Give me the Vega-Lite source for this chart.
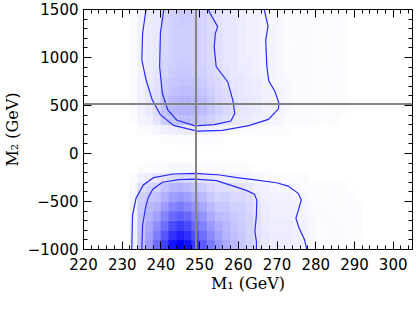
{
"$schema": "https://vega.github.io/schema/vega-lite/v6.json",
"width": 329, "height": 240,
"autosize": "none",
"padding": {"left": 83, "top": 9, "right": 4, "bottom": 63},
"background": "white",
"config": {"view": {"stroke": null}, "axis": {"grid": false, "labelFont": "DejaVu Sans", "labelFontSize": 15, "labelColor": "#000", "titleFont": "DejaVu Serif", "titleFontSize": 16, "titleFontWeight": "normal", "titleColor": "#000", "labelOverlap": false, "labelFlush": false}},
"resolve": {"scale": {"x": "independent", "y": "independent"}, "axis": {"x": "independent", "y": "independent"}},
"datasets": {
"heat": [
{"x":233,"y":-950,"v":6},{"x":233,"y":-850,"v":6},{"x":233,"y":-750,"v":6},{"x":233,"y":-650,"v":5},{"x":233,"y":-550,"v":5},{"x":233,"y":-450,"v":4},{"x":233,"y":-350,"v":3},{"x":233,"y":-250,"v":1},
{"x":235,"y":-950,"v":25},{"x":235,"y":-850,"v":24},{"x":235,"y":-750,"v":23},{"x":235,"y":-650,"v":22},{"x":235,"y":-550,"v":21},{"x":235,"y":-450,"v":18},{"x":235,"y":-350,"v":13},{"x":235,"y":-250,"v":6},{"x":235,"y":-150,"v":1},
{"x":237,"y":-950,"v":40},{"x":237,"y":-850,"v":37},{"x":237,"y":-750,"v":34},{"x":237,"y":-650,"v":30},{"x":237,"y":-550,"v":27},{"x":237,"y":-450,"v":22},{"x":237,"y":-350,"v":16},{"x":237,"y":-250,"v":7},{"x":237,"y":-150,"v":1},
{"x":239,"y":-950,"v":58},{"x":239,"y":-850,"v":51},{"x":239,"y":-750,"v":44},{"x":239,"y":-650,"v":37},{"x":239,"y":-550,"v":30},{"x":239,"y":-450,"v":24},{"x":239,"y":-350,"v":17},{"x":239,"y":-250,"v":9},{"x":239,"y":-150,"v":2},
{"x":241,"y":-950,"v":75},{"x":241,"y":-850,"v":66},{"x":241,"y":-750,"v":57},{"x":241,"y":-650,"v":48},{"x":241,"y":-550,"v":39},{"x":241,"y":-450,"v":31},{"x":241,"y":-350,"v":23},{"x":241,"y":-250,"v":11},{"x":241,"y":-150,"v":2},
{"x":243,"y":-950,"v":92},{"x":243,"y":-850,"v":81},{"x":243,"y":-750,"v":70},{"x":243,"y":-650,"v":59},{"x":243,"y":-550,"v":48},{"x":243,"y":-450,"v":38},{"x":243,"y":-350,"v":28},{"x":243,"y":-250,"v":14},{"x":243,"y":-150,"v":3},
{"x":245,"y":-950,"v":100},{"x":245,"y":-850,"v":88},{"x":245,"y":-750,"v":76},{"x":245,"y":-650,"v":64},{"x":245,"y":-550,"v":52},{"x":245,"y":-450,"v":41},{"x":245,"y":-350,"v":30},{"x":245,"y":-250,"v":15},{"x":245,"y":-150,"v":3},
{"x":247,"y":-950,"v":93},{"x":247,"y":-850,"v":82},{"x":247,"y":-750,"v":71},{"x":247,"y":-650,"v":60},{"x":247,"y":-550,"v":48},{"x":247,"y":-450,"v":38},{"x":247,"y":-350,"v":28},{"x":247,"y":-250,"v":14},{"x":247,"y":-150,"v":3},
{"x":249,"y":-950,"v":78},{"x":249,"y":-850,"v":69},{"x":249,"y":-750,"v":59},{"x":249,"y":-650,"v":50},{"x":249,"y":-550,"v":41},{"x":249,"y":-450,"v":32},{"x":249,"y":-350,"v":23},{"x":249,"y":-250,"v":12},{"x":249,"y":-150,"v":2},
{"x":251,"y":-950,"v":65},{"x":251,"y":-850,"v":57},{"x":251,"y":-750,"v":49},{"x":251,"y":-650,"v":42},{"x":251,"y":-550,"v":34},{"x":251,"y":-450,"v":27},{"x":251,"y":-350,"v":20},{"x":251,"y":-250,"v":10},{"x":251,"y":-150,"v":2},
{"x":253,"y":-950,"v":52},{"x":253,"y":-850,"v":46},{"x":253,"y":-750,"v":40},{"x":253,"y":-650,"v":33},{"x":253,"y":-550,"v":27},{"x":253,"y":-450,"v":21},{"x":253,"y":-350,"v":16},{"x":253,"y":-250,"v":8},{"x":253,"y":-150,"v":2},
{"x":255,"y":-950,"v":42},{"x":255,"y":-850,"v":37},{"x":255,"y":-750,"v":32},{"x":255,"y":-650,"v":27},{"x":255,"y":-550,"v":22},{"x":255,"y":-450,"v":17},{"x":255,"y":-350,"v":13},{"x":255,"y":-250,"v":6},{"x":255,"y":-150,"v":1},
{"x":257,"y":-950,"v":33},{"x":257,"y":-850,"v":30},{"x":257,"y":-750,"v":28},{"x":257,"y":-650,"v":25},{"x":257,"y":-550,"v":22},{"x":257,"y":-450,"v":18},{"x":257,"y":-350,"v":13},{"x":257,"y":-250,"v":6},{"x":257,"y":-150,"v":1},
{"x":259,"y":-950,"v":27},{"x":259,"y":-850,"v":25},{"x":259,"y":-750,"v":23},{"x":259,"y":-650,"v":21},{"x":259,"y":-550,"v":18},{"x":259,"y":-450,"v":15},{"x":259,"y":-350,"v":11},{"x":259,"y":-250,"v":5},{"x":259,"y":-150,"v":1},
{"x":261,"y":-950,"v":22},{"x":261,"y":-850,"v":21},{"x":261,"y":-750,"v":20},{"x":261,"y":-650,"v":19},{"x":261,"y":-550,"v":18},{"x":261,"y":-450,"v":15},{"x":261,"y":-350,"v":11},{"x":261,"y":-250,"v":5},{"x":261,"y":-150,"v":1},
{"x":263,"y":-950,"v":18},{"x":263,"y":-850,"v":17},{"x":263,"y":-750,"v":17},{"x":263,"y":-650,"v":16},{"x":263,"y":-550,"v":15},{"x":263,"y":-450,"v":13},{"x":263,"y":-350,"v":9},{"x":263,"y":-250,"v":4},{"x":263,"y":-150,"v":1},
{"x":265,"y":-950,"v":12},{"x":265,"y":-850,"v":12},{"x":265,"y":-750,"v":11},{"x":265,"y":-650,"v":11},{"x":265,"y":-550,"v":10},{"x":265,"y":-450,"v":8},{"x":265,"y":-350,"v":6},{"x":265,"y":-250,"v":3},
{"x":267,"y":-950,"v":9},{"x":267,"y":-850,"v":9},{"x":267,"y":-750,"v":8},{"x":267,"y":-650,"v":8},{"x":267,"y":-550,"v":7},{"x":267,"y":-450,"v":6},{"x":267,"y":-350,"v":5},{"x":267,"y":-250,"v":2},
{"x":269,"y":-950,"v":7},{"x":269,"y":-850,"v":7},{"x":269,"y":-750,"v":7},{"x":269,"y":-650,"v":6},{"x":269,"y":-550,"v":6},{"x":269,"y":-450,"v":5},{"x":269,"y":-350,"v":4},{"x":269,"y":-250,"v":2},
{"x":271,"y":-950,"v":7},{"x":271,"y":-850,"v":7},{"x":271,"y":-750,"v":7},{"x":271,"y":-650,"v":6},{"x":271,"y":-550,"v":6},{"x":271,"y":-450,"v":5},{"x":271,"y":-350,"v":3},{"x":271,"y":-250,"v":1},
{"x":273,"y":-950,"v":7},{"x":273,"y":-850,"v":7},{"x":273,"y":-750,"v":7},{"x":273,"y":-650,"v":6},{"x":273,"y":-550,"v":6},{"x":273,"y":-450,"v":5},{"x":273,"y":-350,"v":3},{"x":273,"y":-250,"v":1},
{"x":275,"y":-950,"v":6},{"x":275,"y":-850,"v":6},{"x":275,"y":-750,"v":6},{"x":275,"y":-650,"v":5},{"x":275,"y":-550,"v":5},{"x":275,"y":-450,"v":4},{"x":275,"y":-350,"v":3},{"x":275,"y":-250,"v":1},
{"x":277,"y":-950,"v":5},{"x":277,"y":-850,"v":5},{"x":277,"y":-750,"v":5},{"x":277,"y":-650,"v":4},{"x":277,"y":-550,"v":4},{"x":277,"y":-450,"v":3},{"x":277,"y":-350,"v":2},{"x":277,"y":-250,"v":1},
{"x":279,"y":-950,"v":3},{"x":279,"y":-850,"v":3},{"x":279,"y":-750,"v":3},{"x":279,"y":-650,"v":3},{"x":279,"y":-550,"v":2},{"x":279,"y":-450,"v":2},{"x":279,"y":-350,"v":1},
{"x":281,"y":-950,"v":2},{"x":281,"y":-850,"v":2},{"x":281,"y":-750,"v":2},{"x":281,"y":-650,"v":2},{"x":281,"y":-550,"v":2},{"x":281,"y":-450,"v":1},{"x":281,"y":-350,"v":1},
{"x":283,"y":-950,"v":2},{"x":283,"y":-850,"v":2},{"x":283,"y":-750,"v":2},{"x":283,"y":-650,"v":2},{"x":283,"y":-550,"v":2},{"x":283,"y":-450,"v":1},{"x":283,"y":-350,"v":1},
{"x":285,"y":-950,"v":2},{"x":285,"y":-850,"v":2},{"x":285,"y":-750,"v":2},{"x":285,"y":-650,"v":2},{"x":285,"y":-550,"v":1},{"x":285,"y":-450,"v":1},{"x":285,"y":-350,"v":1},
{"x":287,"y":-950,"v":2},{"x":287,"y":-850,"v":2},{"x":287,"y":-750,"v":2},{"x":287,"y":-650,"v":1},{"x":287,"y":-550,"v":1},{"x":287,"y":-450,"v":1},{"x":287,"y":-350,"v":1},
{"x":289,"y":-950,"v":1},{"x":289,"y":-850,"v":1},{"x":289,"y":-750,"v":1},{"x":289,"y":-650,"v":1},{"x":289,"y":-550,"v":1},{"x":289,"y":-450,"v":1},
{"x":291,"y":-950,"v":1},{"x":291,"y":-850,"v":1},{"x":291,"y":-750,"v":1},{"x":291,"y":-650,"v":1},{"x":291,"y":-550,"v":1},
{"x":233,"y":350,"v":1},{"x":233,"y":450,"v":2},{"x":233,"y":550,"v":2},{"x":233,"y":650,"v":2},{"x":233,"y":750,"v":2},{"x":233,"y":850,"v":2},{"x":233,"y":950,"v":2},{"x":233,"y":1050,"v":2},{"x":233,"y":1150,"v":2},{"x":233,"y":1250,"v":2},{"x":233,"y":1350,"v":2},{"x":233,"y":1450,"v":2},
{"x":235,"y":250,"v":1},{"x":235,"y":350,"v":4},{"x":235,"y":450,"v":6},{"x":235,"y":550,"v":6},{"x":235,"y":650,"v":6},{"x":235,"y":750,"v":5},{"x":235,"y":850,"v":5},{"x":235,"y":950,"v":5},{"x":235,"y":1050,"v":5},{"x":235,"y":1150,"v":5},{"x":235,"y":1250,"v":5},{"x":235,"y":1350,"v":5},{"x":235,"y":1450,"v":5},
{"x":237,"y":250,"v":2},{"x":237,"y":350,"v":6},{"x":237,"y":450,"v":9},{"x":237,"y":550,"v":9},{"x":237,"y":650,"v":9},{"x":237,"y":750,"v":8},{"x":237,"y":850,"v":8},{"x":237,"y":950,"v":8},{"x":237,"y":1050,"v":8},{"x":237,"y":1150,"v":8},{"x":237,"y":1250,"v":8},{"x":237,"y":1350,"v":8},{"x":237,"y":1450,"v":8},
{"x":239,"y":250,"v":4},{"x":239,"y":350,"v":11},{"x":239,"y":450,"v":14},{"x":239,"y":550,"v":13},{"x":239,"y":650,"v":12},{"x":239,"y":750,"v":11},{"x":239,"y":850,"v":10},{"x":239,"y":950,"v":9},{"x":239,"y":1050,"v":9},{"x":239,"y":1150,"v":9},{"x":239,"y":1250,"v":9},{"x":239,"y":1350,"v":9},{"x":239,"y":1450,"v":9},
{"x":241,"y":150,"v":1},{"x":241,"y":250,"v":6},{"x":241,"y":350,"v":20},{"x":241,"y":450,"v":24},{"x":241,"y":550,"v":23},{"x":241,"y":650,"v":20},{"x":241,"y":750,"v":19},{"x":241,"y":850,"v":17},{"x":241,"y":950,"v":16},{"x":241,"y":1050,"v":15},{"x":241,"y":1150,"v":15},{"x":241,"y":1250,"v":15},{"x":241,"y":1350,"v":16},{"x":241,"y":1450,"v":16},
{"x":243,"y":150,"v":1},{"x":243,"y":250,"v":7},{"x":243,"y":350,"v":23},{"x":243,"y":450,"v":28},{"x":243,"y":550,"v":27},{"x":243,"y":650,"v":24},{"x":243,"y":750,"v":22},{"x":243,"y":850,"v":20},{"x":243,"y":950,"v":18},{"x":243,"y":1050,"v":18},{"x":243,"y":1150,"v":18},{"x":243,"y":1250,"v":18},{"x":243,"y":1350,"v":18},{"x":243,"y":1450,"v":18},
{"x":245,"y":150,"v":1},{"x":245,"y":250,"v":8},{"x":245,"y":350,"v":25},{"x":245,"y":450,"v":30},{"x":245,"y":550,"v":29},{"x":245,"y":650,"v":26},{"x":245,"y":750,"v":23},{"x":245,"y":850,"v":21},{"x":245,"y":950,"v":20},{"x":245,"y":1050,"v":19},{"x":245,"y":1150,"v":19},{"x":245,"y":1250,"v":19},{"x":245,"y":1350,"v":20},{"x":245,"y":1450,"v":20},
{"x":247,"y":150,"v":1},{"x":247,"y":250,"v":8},{"x":247,"y":350,"v":25},{"x":247,"y":450,"v":30},{"x":247,"y":550,"v":29},{"x":247,"y":650,"v":26},{"x":247,"y":750,"v":23},{"x":247,"y":850,"v":21},{"x":247,"y":950,"v":20},{"x":247,"y":1050,"v":19},{"x":247,"y":1150,"v":19},{"x":247,"y":1250,"v":19},{"x":247,"y":1350,"v":20},{"x":247,"y":1450,"v":20},
{"x":249,"y":150,"v":1},{"x":249,"y":250,"v":7},{"x":249,"y":350,"v":24},{"x":249,"y":450,"v":29},{"x":249,"y":550,"v":28},{"x":249,"y":650,"v":25},{"x":249,"y":750,"v":23},{"x":249,"y":850,"v":20},{"x":249,"y":950,"v":19},{"x":249,"y":1050,"v":19},{"x":249,"y":1150,"v":19},{"x":249,"y":1250,"v":19},{"x":249,"y":1350,"v":19},{"x":249,"y":1450,"v":19},
{"x":251,"y":150,"v":1},{"x":251,"y":250,"v":7},{"x":251,"y":350,"v":21},{"x":251,"y":450,"v":26},{"x":251,"y":550,"v":25},{"x":251,"y":650,"v":22},{"x":251,"y":750,"v":20},{"x":251,"y":850,"v":18},{"x":251,"y":950,"v":17},{"x":251,"y":1050,"v":17},{"x":251,"y":1150,"v":17},{"x":251,"y":1250,"v":17},{"x":251,"y":1350,"v":17},{"x":251,"y":1450,"v":17},
{"x":253,"y":150,"v":1},{"x":253,"y":250,"v":6},{"x":253,"y":350,"v":18},{"x":253,"y":450,"v":22},{"x":253,"y":550,"v":21},{"x":253,"y":650,"v":19},{"x":253,"y":750,"v":17},{"x":253,"y":850,"v":15},{"x":253,"y":950,"v":15},{"x":253,"y":1050,"v":14},{"x":253,"y":1150,"v":14},{"x":253,"y":1250,"v":14},{"x":253,"y":1350,"v":14},{"x":253,"y":1450,"v":15},
{"x":255,"y":150,"v":1},{"x":255,"y":250,"v":5},{"x":255,"y":350,"v":15},{"x":255,"y":450,"v":18},{"x":255,"y":550,"v":17},{"x":255,"y":650,"v":15},{"x":255,"y":750,"v":14},{"x":255,"y":850,"v":13},{"x":255,"y":950,"v":12},{"x":255,"y":1050,"v":12},{"x":255,"y":1150,"v":12},{"x":255,"y":1250,"v":12},{"x":255,"y":1350,"v":12},{"x":255,"y":1450,"v":12},
{"x":257,"y":250,"v":4},{"x":257,"y":350,"v":12},{"x":257,"y":450,"v":15},{"x":257,"y":550,"v":14},{"x":257,"y":650,"v":13},{"x":257,"y":750,"v":12},{"x":257,"y":850,"v":11},{"x":257,"y":950,"v":10},{"x":257,"y":1050,"v":10},{"x":257,"y":1150,"v":10},{"x":257,"y":1250,"v":10},{"x":257,"y":1350,"v":10},{"x":257,"y":1450,"v":10},
{"x":259,"y":250,"v":2},{"x":259,"y":350,"v":9},{"x":259,"y":450,"v":12},{"x":259,"y":550,"v":12},{"x":259,"y":650,"v":11},{"x":259,"y":750,"v":10},{"x":259,"y":850,"v":9},{"x":259,"y":950,"v":9},{"x":259,"y":1050,"v":9},{"x":259,"y":1150,"v":9},{"x":259,"y":1250,"v":9},{"x":259,"y":1350,"v":9},{"x":259,"y":1450,"v":9},
{"x":261,"y":250,"v":2},{"x":261,"y":350,"v":8},{"x":261,"y":450,"v":10},{"x":261,"y":550,"v":10},{"x":261,"y":650,"v":9},{"x":261,"y":750,"v":9},{"x":261,"y":850,"v":8},{"x":261,"y":950,"v":7},{"x":261,"y":1050,"v":7},{"x":261,"y":1150,"v":7},{"x":261,"y":1250,"v":7},{"x":261,"y":1350,"v":7},{"x":261,"y":1450,"v":7},
{"x":263,"y":250,"v":2},{"x":263,"y":350,"v":7},{"x":263,"y":450,"v":9},{"x":263,"y":550,"v":9},{"x":263,"y":650,"v":8},{"x":263,"y":750,"v":8},{"x":263,"y":850,"v":7},{"x":263,"y":950,"v":7},{"x":263,"y":1050,"v":6},{"x":263,"y":1150,"v":6},{"x":263,"y":1250,"v":6},{"x":263,"y":1350,"v":6},{"x":263,"y":1450,"v":6},
{"x":265,"y":250,"v":2},{"x":265,"y":350,"v":6},{"x":265,"y":450,"v":8},{"x":265,"y":550,"v":8},{"x":265,"y":650,"v":7},{"x":265,"y":750,"v":7},{"x":265,"y":850,"v":6},{"x":265,"y":950,"v":6},{"x":265,"y":1050,"v":6},{"x":265,"y":1150,"v":6},{"x":265,"y":1250,"v":6},{"x":265,"y":1350,"v":6},{"x":265,"y":1450,"v":6},
{"x":267,"y":250,"v":1},{"x":267,"y":350,"v":5},{"x":267,"y":450,"v":6},{"x":267,"y":550,"v":6},{"x":267,"y":650,"v":6},{"x":267,"y":750,"v":5},{"x":267,"y":850,"v":5},{"x":267,"y":950,"v":4},{"x":267,"y":1050,"v":4},{"x":267,"y":1150,"v":4},{"x":267,"y":1250,"v":4},{"x":267,"y":1350,"v":4},{"x":267,"y":1450,"v":4},
{"x":269,"y":250,"v":1},{"x":269,"y":350,"v":4},{"x":269,"y":450,"v":5},{"x":269,"y":550,"v":5},{"x":269,"y":650,"v":5},{"x":269,"y":750,"v":4},{"x":269,"y":850,"v":4},{"x":269,"y":950,"v":4},{"x":269,"y":1050,"v":4},{"x":269,"y":1150,"v":4},{"x":269,"y":1250,"v":4},{"x":269,"y":1350,"v":4},{"x":269,"y":1450,"v":4},
{"x":271,"y":250,"v":1},{"x":271,"y":350,"v":3},{"x":271,"y":450,"v":4},{"x":271,"y":550,"v":4},{"x":271,"y":650,"v":4},{"x":271,"y":750,"v":3},{"x":271,"y":850,"v":3},{"x":271,"y":950,"v":3},{"x":271,"y":1050,"v":3},{"x":271,"y":1150,"v":3},{"x":271,"y":1250,"v":3},{"x":271,"y":1350,"v":3},{"x":271,"y":1450,"v":3},
{"x":273,"y":250,"v":1},{"x":273,"y":350,"v":2},{"x":273,"y":450,"v":3},{"x":273,"y":550,"v":3},{"x":273,"y":650,"v":3},{"x":273,"y":750,"v":3},{"x":273,"y":850,"v":2},{"x":273,"y":950,"v":2},{"x":273,"y":1050,"v":2},{"x":273,"y":1150,"v":2},{"x":273,"y":1250,"v":2},{"x":273,"y":1350,"v":2},{"x":273,"y":1450,"v":2},
{"x":275,"y":350,"v":2},{"x":275,"y":450,"v":2},{"x":275,"y":550,"v":2},{"x":275,"y":650,"v":2},{"x":275,"y":750,"v":2},{"x":275,"y":850,"v":2},{"x":275,"y":950,"v":2},{"x":275,"y":1050,"v":2},{"x":275,"y":1150,"v":2},{"x":275,"y":1250,"v":2},{"x":275,"y":1350,"v":2},{"x":275,"y":1450,"v":2},
{"x":277,"y":350,"v":2},{"x":277,"y":450,"v":2},{"x":277,"y":550,"v":2},{"x":277,"y":650,"v":2},{"x":277,"y":750,"v":2},{"x":277,"y":850,"v":2},{"x":277,"y":950,"v":2},{"x":277,"y":1050,"v":2},{"x":277,"y":1150,"v":2},{"x":277,"y":1250,"v":2},{"x":277,"y":1350,"v":2},{"x":277,"y":1450,"v":2},
{"x":279,"y":350,"v":2},{"x":279,"y":450,"v":2},{"x":279,"y":550,"v":2},{"x":279,"y":650,"v":2},{"x":279,"y":750,"v":2},{"x":279,"y":850,"v":2},{"x":279,"y":950,"v":2},{"x":279,"y":1050,"v":2},{"x":279,"y":1150,"v":2},{"x":279,"y":1250,"v":2},{"x":279,"y":1350,"v":2},{"x":279,"y":1450,"v":2},
{"x":281,"y":350,"v":1},{"x":281,"y":450,"v":1},{"x":281,"y":550,"v":1},{"x":281,"y":650,"v":1},{"x":281,"y":750,"v":1},{"x":281,"y":850,"v":1},{"x":281,"y":950,"v":1},{"x":281,"y":1050,"v":1},{"x":281,"y":1150,"v":1},{"x":281,"y":1250,"v":1},{"x":281,"y":1350,"v":1},{"x":281,"y":1450,"v":1},
{"x":283,"y":350,"v":1},{"x":283,"y":450,"v":1},{"x":283,"y":550,"v":1},{"x":283,"y":650,"v":1},{"x":283,"y":750,"v":1},{"x":283,"y":850,"v":1},{"x":283,"y":950,"v":1},{"x":283,"y":1050,"v":1},{"x":283,"y":1150,"v":1},{"x":283,"y":1250,"v":1},{"x":283,"y":1350,"v":1},{"x":283,"y":1450,"v":1},
{"x":285,"y":350,"v":1},{"x":285,"y":450,"v":1},{"x":285,"y":550,"v":1},{"x":285,"y":650,"v":1},{"x":285,"y":750,"v":1},{"x":285,"y":850,"v":1},{"x":285,"y":950,"v":1},{"x":285,"y":1050,"v":1},{"x":285,"y":1150,"v":1},{"x":285,"y":1250,"v":1},{"x":285,"y":1350,"v":1},{"x":285,"y":1450,"v":1},
{"x":287,"y":450,"v":1},{"x":287,"y":550,"v":1},{"x":287,"y":650,"v":1},{"x":287,"y":750,"v":1},{"x":287,"y":850,"v":1},{"x":287,"y":950,"v":1},{"x":287,"y":1050,"v":1},{"x":287,"y":1150,"v":1},{"x":287,"y":1250,"v":1},{"x":287,"y":1350,"v":1},{"x":287,"y":1450,"v":1}
],
"lowc": [
{"c":"lo","i":1,"x":232.6,"y":-1000},{"c":"lo","i":2,"x":232.8,"y":-646},{"c":"lo","i":3,"x":233.7,"y":-472},{"c":"lo","i":4,"x":235.6,"y":-333},{"c":"lo","i":5,"x":238.2,"y":-257},{"c":"lo","i":6,"x":243.4,"y":-219},{"c":"lo","i":7,"x":248.9,"y":-212},{"c":"lo","i":8,"x":255.4,"y":-229},{"c":"lo","i":9,"x":259.7,"y":-257},{"c":"lo","i":10,"x":264,"y":-278},{"c":"lo","i":11,"x":270,"y":-310},{"c":"lo","i":12,"x":273,"y":-345},{"c":"lo","i":13,"x":275.6,"y":-420},{"c":"lo","i":14,"x":276.4,"y":-490},{"c":"lo","i":15,"x":275.6,"y":-600},{"c":"lo","i":16,"x":275.0,"y":-680},{"c":"lo","i":17,"x":275.8,"y":-780},{"c":"lo","i":18,"x":277.2,"y":-900},{"c":"lo","i":19,"x":277.8,"y":-1000},
{"c":"li","i":1,"x":235.2,"y":-1000},{"c":"li","i":2,"x":235.4,"y":-750},{"c":"li","i":3,"x":236.2,"y":-560},{"c":"li","i":4,"x":236.8,"y":-470},{"c":"li","i":5,"x":238,"y":-380},{"c":"li","i":6,"x":240.5,"y":-305},{"c":"li","i":7,"x":244.8,"y":-278},{"c":"li","i":8,"x":248.9,"y":-272},{"c":"li","i":9,"x":254.5,"y":-288},{"c":"li","i":10,"x":259.7,"y":-355},{"c":"li","i":11,"x":262.5,"y":-395},{"c":"li","i":12,"x":264.3,"y":-430},{"c":"li","i":13,"x":264.9,"y":-490},{"c":"li","i":14,"x":264.8,"y":-650},{"c":"li","i":15,"x":264.4,"y":-820},{"c":"li","i":16,"x":264.8,"y":-920},{"c":"li","i":17,"x":264.8,"y":-1000}
],
"upc": [
{"c":"uo","i":1,"x":236.3,"y":1500},{"c":"uo","i":2,"x":235.4,"y":1247},{"c":"uo","i":3,"x":235.2,"y":969},{"c":"uo","i":4,"x":236.3,"y":760},{"c":"uo","i":5,"x":237.9,"y":552},{"c":"uo","i":6,"x":240,"y":400},{"c":"uo","i":7,"x":243.4,"y":288},{"c":"uo","i":8,"x":249.5,"y":228},{"c":"uo","i":9,"x":256,"y":236},{"c":"uo","i":10,"x":262.8,"y":285},{"c":"uo","i":11,"x":267.9,"y":350},{"c":"uo","i":12,"x":270.5,"y":460},{"c":"uo","i":13,"x":270.6,"y":520},{"c":"uo","i":14,"x":269.6,"y":640},{"c":"uo","i":15,"x":268,"y":750},{"c":"uo","i":16,"x":267.5,"y":899},{"c":"uo","i":17,"x":267.2,"y":1177},{"c":"uo","i":18,"x":267.8,"y":1320},{"c":"uo","i":19,"x":266.8,"y":1500},
{"c":"ui","i":1,"x":240.9,"y":1500},{"c":"ui","i":2,"x":240,"y":1247},{"c":"ui","i":3,"x":239.8,"y":899},{"c":"ui","i":4,"x":240.5,"y":622},{"c":"ui","i":5,"x":241.9,"y":448},{"c":"ui","i":6,"x":244.2,"y":344},{"c":"ui","i":7,"x":248.9,"y":283},{"c":"ui","i":8,"x":253.9,"y":295},{"c":"ui","i":9,"x":258.2,"y":333},{"c":"ui","i":10,"x":259.2,"y":413},{"c":"ui","i":11,"x":258.7,"y":552},{"c":"ui","i":12,"x":257.4,"y":740},{"c":"ui","i":13,"x":254.4,"y":900},{"c":"ui","i":14,"x":253.9,"y":1108},{"c":"ui","i":15,"x":254.2,"y":1247},{"c":"ui","i":16,"x":254.8,"y":1316},{"c":"ui","i":17,"x":252.8,"y":1455},{"c":"ui","i":18,"x":252.3,"y":1500}
],
"vline": [{"x":249.2,"y":-1000,"y2":1500}],
"hline": [{"y":510,"x":220,"x2":305}]
},
"layer": [
{
"data": {"name": "heat"},
"mark": {"type": "rect", "binSpacing": 0, "strokeWidth": 0.6, "clip": true},
"encoding": {
"x": {"field": "x", "type": "quantitative", "bin": {"step": 2, "extent": [220, 306], "nice": false}, "scale": {"domain": [220, 305], "nice": false, "zero": false},
"axis": {"orient": "bottom", "values": [220,230,240,250,260,270,280,290,300], "ticks": false, "tickSize": 0, "domain": false, "labelPadding": 8, "format": "d", "title": "M₁ (GeV)", "titlePadding": 3}},
"y": {"field": "y", "type": "quantitative", "bin": {"step": 100, "extent": [-1000, 1500], "nice": false}, "scale": {"domain": [-1000, 1500], "nice": false, "zero": false},
"axis": {"orient": "left", "values": [-1000,-500,0,500,1000,1500], "ticks": false, "tickSize": 0, "domain": false, "labelPadding": 5, "format": "d", "title": "M₂ (GeV)", "titlePadding": 7}},
"color": {"field": "v", "type": "quantitative", "scale": {"domain": [0, 100], "range": ["#ffffff", "#0000ff"], "interpolate": "rgb"}, "legend": null},
"stroke": {"field": "v", "type": "quantitative", "scale": {"domain": [0, 100], "range": ["#ffffff", "#0000ff"], "interpolate": "rgb"}, "legend": null}
}
},
{
"data": {"name": "lowc"},
"mark": {"type": "line", "color": "#2a2aff", "strokeWidth": 1.2, "clip": true},
"encoding": {
"x": {"field": "x", "type": "quantitative", "scale": {"domain": [220, 305], "nice": false, "zero": false},
"axis": {"orient": "bottom", "values": [220,230,240,250,260,270,280,290,300], "labels": false, "ticks": true, "tickSize": -8, "tickColor": "#000", "tickWidth": 1, "domain": true, "domainColor": "#000", "domainWidth": 1, "title": null, "zindex": 2}},
"y": {"field": "y", "type": "quantitative", "scale": {"domain": [-1000, 1500], "nice": false, "zero": false},
"axis": {"orient": "left", "values": [-1000,-500,0,500,1000,1500], "labels": false, "ticks": true, "tickSize": -8, "tickColor": "#000", "tickWidth": 1, "domain": true, "domainColor": "#000", "domainWidth": 1, "title": null, "zindex": 2}},
"detail": {"field": "c", "type": "nominal"},
"order": {"field": "i", "type": "quantitative"}
}
},
{
"data": {"name": "upc"},
"mark": {"type": "line", "color": "#2a2aff", "strokeWidth": 1.2, "clip": true},
"encoding": {
"x": {"field": "x", "type": "quantitative", "scale": {"domain": [220, 305], "nice": false, "zero": false},
"axis": {"orient": "top", "values": [220,230,240,250,260,270,280,290,300], "labels": false, "ticks": true, "tickSize": -8, "tickColor": "#000", "tickWidth": 1, "domain": true, "domainColor": "#000", "domainWidth": 1, "title": null, "zindex": 2}},
"y": {"field": "y", "type": "quantitative", "scale": {"domain": [-1000, 1500], "nice": false, "zero": false},
"axis": {"orient": "right", "values": [-1000,-500,0,500,1000,1500], "labels": false, "ticks": true, "tickSize": -8, "tickColor": "#000", "tickWidth": 1, "domain": true, "domainColor": "#000", "domainWidth": 1, "title": null, "zindex": 2}},
"detail": {"field": "c", "type": "nominal"},
"order": {"field": "i", "type": "quantitative"}
}
},
{
"data": {"name": "vline"},
"mark": {"type": "rule", "color": "#848484", "strokeWidth": 2},
"encoding": {
"x": {"field": "x", "type": "quantitative", "scale": {"domain": [220, 305], "nice": false, "zero": false},
"axis": {"orient": "bottom", "values": [220,222,224,226,228,230,232,234,236,238,240,242,244,246,248,250,252,254,256,258,260,262,264,266,268,270,272,274,276,278,280,282,284,286,288,290,292,294,296,298,300,302,304], "labels": false, "ticks": true, "tickSize": -4, "tickColor": "#000", "tickWidth": 1, "domain": false, "title": null, "zindex": 2}},
"y": {"field": "y", "type": "quantitative", "scale": {"domain": [-1000, 1500], "nice": false, "zero": false},
"axis": {"orient": "left", "values": [-1000,-900,-800,-700,-600,-500,-400,-300,-200,-100,0,100,200,300,400,500,600,700,800,900,1000,1100,1200,1300,1400,1500], "labels": false, "ticks": true, "tickSize": -4, "tickColor": "#000", "tickWidth": 1, "domain": false, "title": null, "zindex": 2}},
"y2": {"field": "y2"}
}
},
{
"data": {"name": "hline"},
"mark": {"type": "rule", "color": "#848484", "strokeWidth": 2},
"encoding": {
"y": {"field": "y", "type": "quantitative", "scale": {"domain": [-1000, 1500], "nice": false, "zero": false},
"axis": {"orient": "right", "values": [-1000,-900,-800,-700,-600,-500,-400,-300,-200,-100,0,100,200,300,400,500,600,700,800,900,1000,1100,1200,1300,1400,1500], "labels": false, "ticks": true, "tickSize": -4, "tickColor": "#000", "tickWidth": 1, "domain": false, "title": null, "zindex": 2}},
"x": {"field": "x", "type": "quantitative", "scale": {"domain": [220, 305], "nice": false, "zero": false},
"axis": {"orient": "top", "values": [220,222,224,226,228,230,232,234,236,238,240,242,244,246,248,250,252,254,256,258,260,262,264,266,268,270,272,274,276,278,280,282,284,286,288,290,292,294,296,298,300,302,304], "labels": false, "ticks": true, "tickSize": -4, "tickColor": "#000", "tickWidth": 1, "domain": false, "title": null, "zindex": 2}},
"x2": {"field": "x2"}
}
}
]
}
